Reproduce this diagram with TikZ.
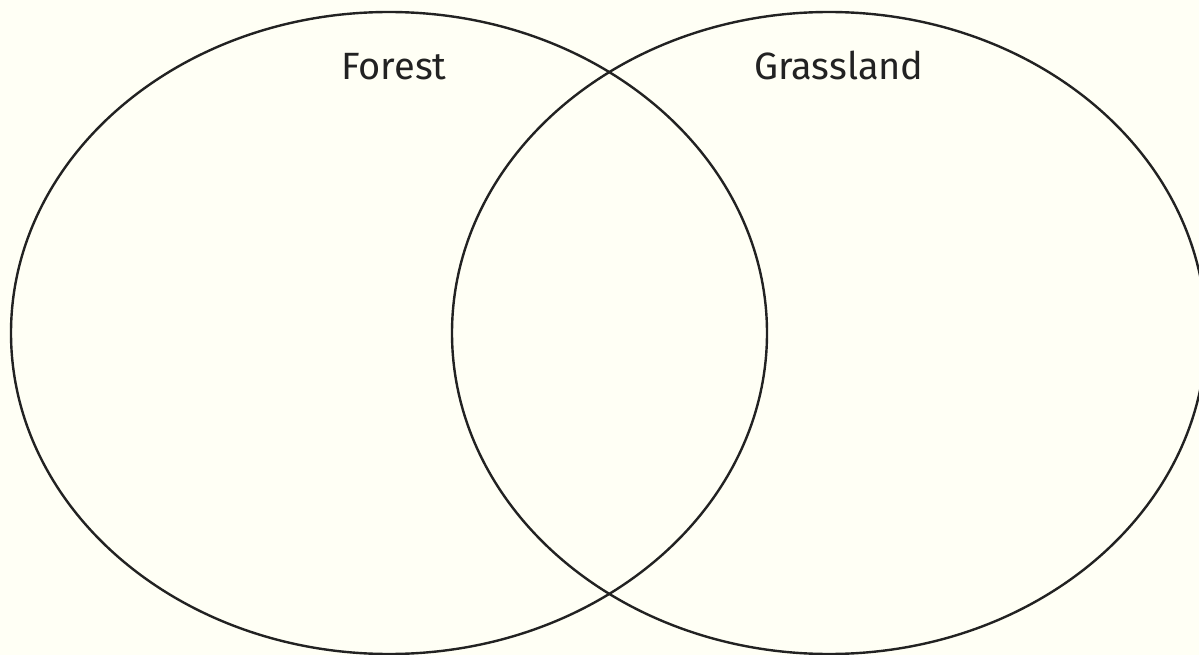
\documentclass[tikz,border=0pt]{standalone}
\usepackage{fontspec}
\setmainfont{Fira Sans}
\definecolor{bg}{HTML}{FFFFF5}
\definecolor{ink}{HTML}{222222}
\begin{document}
\begin{tikzpicture}[x=1pt,y=-1pt,
  venn/.style={draw=ink,line width=2.4pt},
  label/.style={text=ink,font=\fontsize{38}{42}\selectfont,inner sep=0pt,anchor=base}]
\fill[bg] (0,0) rectangle (1199,655);
\useasboundingbox (0,0) rectangle (1199,655);
\draw[venn] (389,333) ellipse [x radius=378, y radius=321];
\draw[venn] (829,333) ellipse [x radius=377, y radius=321];
\node[label] (forest) at (394,80) {Forest};
\node[label] (grass) at (839,80) {Grassland};
\end{tikzpicture}
\end{document}
